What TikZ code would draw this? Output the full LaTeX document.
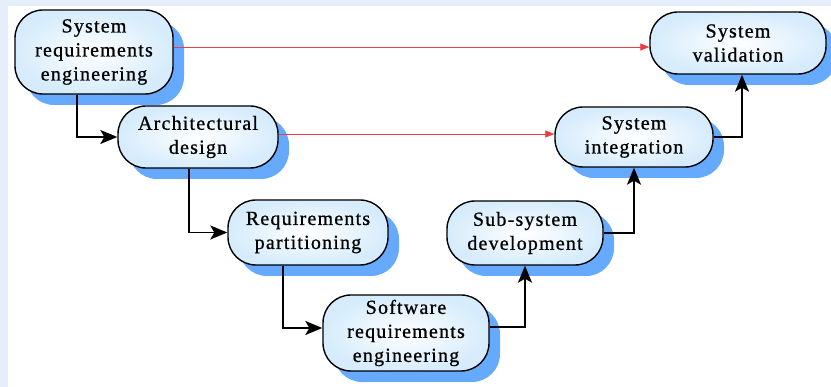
\documentclass[tikz,border=0pt]{standalone}
\usepackage{fontspec}
\setmainfont{Liberation Serif}
\usetikzlibrary{arrows.meta,shadows,shapes.misc}
\definecolor{shadowblue}{RGB}{102,170,255}
\definecolor{stripblue}{RGB}{228,239,251}
\definecolor{boxblue}{RGB}{214,236,252}
\definecolor{linkred}{RGB}{235,60,70}
\begin{document}
\begin{tikzpicture}[x=1pt,y=-1pt,
  stage/.style={draw=black, line width=1.4pt, rounded corners=28pt,
    inner color=white, outer color=boxblue,
    drop shadow={shadow xshift=11pt,shadow yshift=-11pt,fill=shadowblue,opacity=1},
    align=center, inner sep=0pt,
    font=\fontsize{20}{24}\selectfont\addfontfeatures{LetterSpace=6,FakeBold=0.8}},
  flow/.style={draw=black, line width=1.6pt, -{Stealth[length=17pt,width=14pt,inset=4pt]}},
  trace/.style={draw=linkred, line width=0.8pt, -{Triangle[length=9pt,width=7pt]}}
]
\useasboundingbox (0,0) rectangle (831,387);
\fill[white] (0,0) rectangle (831,387);
\fill[stripblue] (0,0) rectangle (8,387);
\fill[stripblue] (0,0) rectangle (831,6);

\node[stage, minimum width=158pt, minimum height=84pt] (sre) at (94,52) {System\\requirements\\engineering};
\node[stage, minimum width=160pt, minimum height=62pt] (arch) at (198,137) {Architectural\\design};
\node[stage, minimum width=160pt, minimum height=65pt] (part) at (308,232.5) {Requirements\\partitioning};
\node[stage, minimum width=166pt, minimum height=76pt] (swre) at (406,333) {Software\\requirements\\engineering};
\node[stage, minimum width=156pt, minimum height=64pt] (sub) at (525,233) {Sub-system\\development};
\node[stage, minimum width=158pt, minimum height=60pt] (integ) at (634,137) {System\\integration};
\node[stage, minimum width=176pt, minimum height=62pt] (valid) at (738,43) {System\\validation};

\draw[flow] ([xshift=-17pt]sre.south) |- (arch.west);
\draw[flow] ([xshift=-9pt]arch.south) |- (part.west);
\draw[flow] ([xshift=-25pt]part.south) |- ([yshift=5pt]swre.west);
\draw[flow] ([yshift=6pt]swre.east) -| (sub.south);
\draw[flow] (sub.east) -| (integ.south);
\draw[flow] (integ.east) -| ([xshift=4pt]valid.south);

\draw[trace] ([yshift=5pt]sre.east) -- ([yshift=5pt]sre.east -| valid.west);
\draw[trace] ([yshift=3pt]arch.east) -- ([yshift=3pt]arch.east -| integ.west);
\end{tikzpicture}
\end{document}
